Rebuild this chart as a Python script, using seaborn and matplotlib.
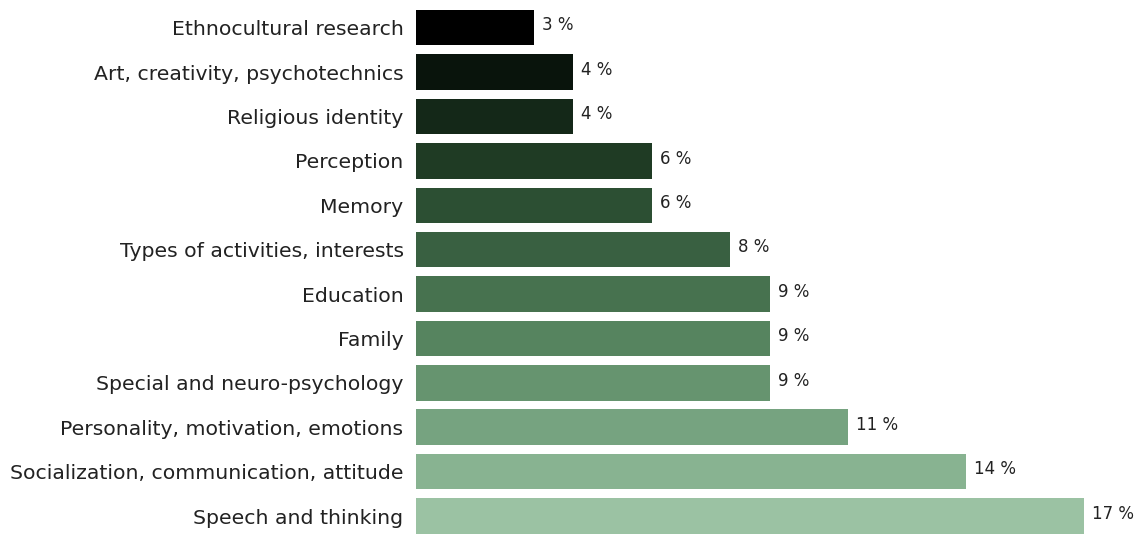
import matplotlib
matplotlib.use("Agg")
import matplotlib.pyplot as plt
import seaborn as sns
import pandas as pd

# data
topics = [
    "Ethnocultural research",
    "Art, creativity, psychotechnics",
    "Religious identity",
    "Perception",
    "Memory",
    "Types of activities, interests",
    "Education",
    "Family",
    "Special and neuro-psychology",
    "Personality, motivation, emotions",
    "Socialization, communication, attitude",
    "Speech and thinking",
]
shares = [3, 4, 4, 6, 6, 8, 9, 9, 9, 11, 14, 17]

df = pd.DataFrame({"topic": topics, "share": shares})

sns.set_style("white")
plt.rcParams["font.family"] = ["DejaVu Sans"]

fig = plt.figure(figsize=(11.46, 5.36), dpi=100)
ax = fig.add_axes([416 / 1146, 0.0, 1 - 416 / 1146, 530.5 / 536])

palette = sns.cubehelix_palette(len(topics), start=2, rot=0, hue=0.6, dark=0, light=.7, reverse=True)
sns.barplot(data=df, x="share", y="topic", hue="topic", palette=palette,
            legend=False, ax=ax, width=0.8, saturation=1, linewidth=0)

for i, v in enumerate(shares):
    ax.text(v + 0.2, i - 0.05, f"{v} %", va="center", ha="left", fontsize=12, color="#222222")

ax.set_xlim(0, 730 / 39.3)
ax.set_ylim(11.45, -0.5)
ax.set_xlabel("")
ax.set_ylabel("")
ax.set_xticks([])
ax.tick_params(axis="y", length=0, pad=9, labelsize=14.7, labelcolor="#222222")
sns.despine(ax=ax, left=True, bottom=True)

fig.savefig("out.png", dpi=100)
